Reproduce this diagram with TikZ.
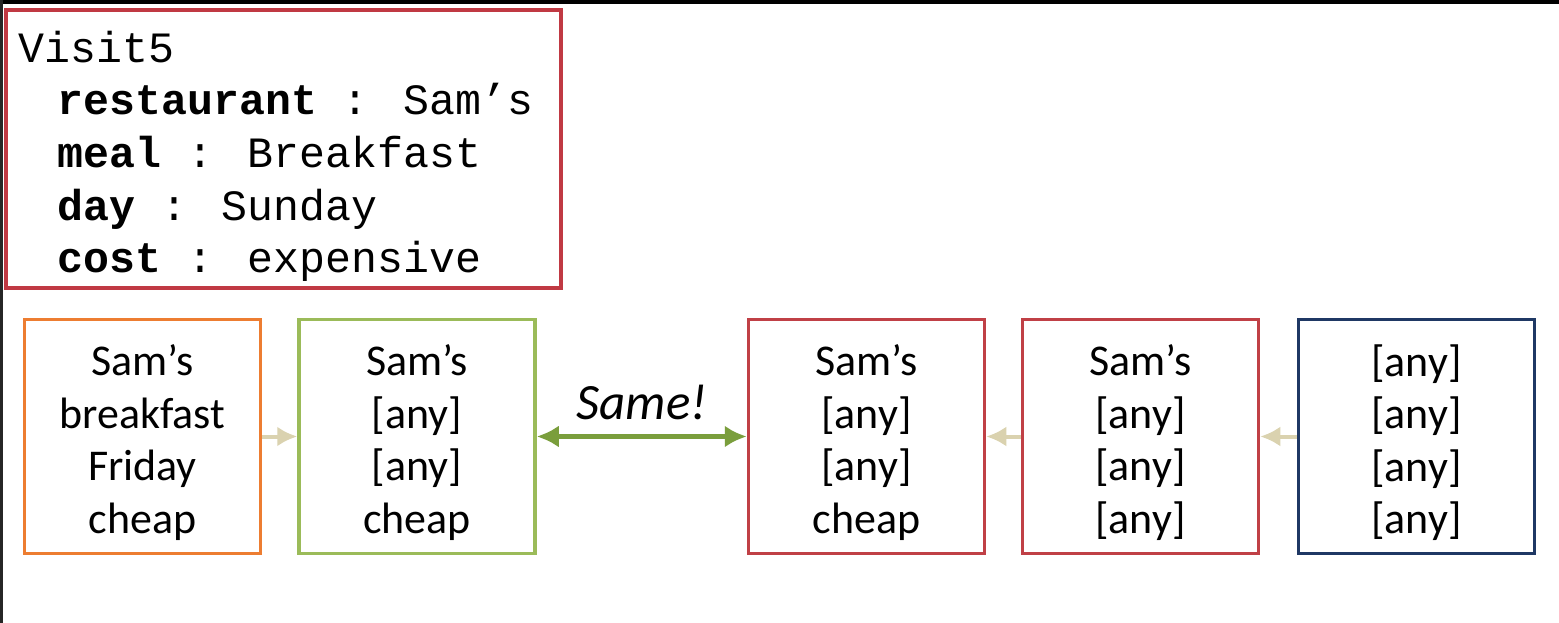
\documentclass[tikz,border=0pt]{standalone}
\usepackage{fontspec}
\setmainfont{Carlito}
\newfontfamily\codefont{Liberation Mono}
\usetikzlibrary{arrows.meta}

\definecolor{visitred}{RGB}{192,57,67}
\definecolor{slotorange}{RGB}{237,125,49}
\definecolor{slotgreen}{RGB}{155,187,89}
\definecolor{slotred}{RGB}{192,64,70}
\definecolor{slotblue}{RGB}{31,56,100}
\definecolor{hoptan}{RGB}{218,210,175}
\definecolor{samegreen}{RGB}{122,158,60}

\tikzset{
  slot/.style={draw=#1,line width=0.35mm,minimum width=23.6mm,minimum height=23.4mm,inner sep=0pt},
  slottext/.style={align=center,inner sep=0pt,font=\fontsize{12.5}{14.9}\selectfont,yshift=-0.6mm},
  hop/.style={draw=hoptan,line width=0.4mm,-{Latex[length=2mm,width=2mm]}},
  same/.style={draw=samegreen,line width=0.45mm,{Latex[length=2.2mm,width=2.2mm]}-{Latex[length=2.2mm,width=2.2mm]}}
}

\begin{document}
\begin{tikzpicture}[x=0.1mm,y=-0.1mm]
\useasboundingbox (0,0) rectangle (1559,623);
\fill[white] (0,0) rectangle (1559,623);
\fill[black] (0,0) rectangle (1559,4);
\fill[black!85] (0,0) rectangle (3,623);

%% the visit record
\node[draw=visitred,line width=0.4mm,minimum width=55.5mm,minimum height=27.8mm] (visit) at (283.5,149) {};
\node[anchor=north west,inner sep=0pt,align=left,font=\codefont\fontsize{12.3}{15}\selectfont] (visittext) at (18,30)
  {Visit5\\
   \hspace*{0.9em}\textbf{restaurant} : Sam’s\\
   \hspace*{0.9em}\textbf{meal} : Breakfast\\
   \hspace*{0.9em}\textbf{day} : Sunday\\
   \hspace*{0.9em}\textbf{cost} : expensive};

%% the slots
\foreach \name/\x/\col/\txt in {box1/142.5/slotorange/{Sam’s\\breakfast\\Friday\\cheap},
                                box2/417/slotgreen/{Sam’s\\{[any]}\\{[any]}\\cheap},
                                box3/866.5/slotred/{Sam’s\\{[any]}\\{[any]}\\cheap},
                                box4/1140.5/slotred/{Sam’s\\{[any]}\\{[any]}\\{[any]}},
                                box5/1416.5/slotblue/{{[any]}\\{[any]}\\{[any]}\\{[any]}}}
  {\node[slot=\col] (\name) at (\x,436.5) {};
   \node[slottext] (\name-txt) at (\name) {\txt};}

\draw[hop] (box1) -- (box2);
\draw[same] (box2) -- node[above,inner sep=1.4mm,font=\itshape\fontsize{14.5}{16}\selectfont] (samelabel) {Same!} (box3);
\draw[hop] (box4) -- (box3);
\draw[hop] (box5) -- (box4);
\end{tikzpicture}
\end{document}
